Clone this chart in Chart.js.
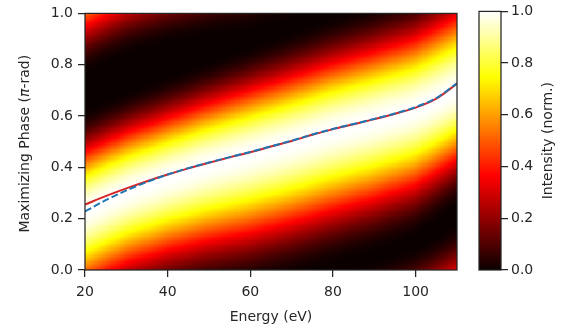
<!DOCTYPE html>
<html>
<head>
<meta charset="utf-8">
<script src="https://cdn.jsdelivr.net/npm/chart.js@4.4.1/dist/chart.umd.min.js"></script>
<style>
  body { margin: 0; background: #fff; }
  #wrap { position: relative; width: 567px; height: 333px; }
  #wrap canvas { position: absolute; left: 0; top: 0; }
</style>
</head>
<body>
<div id="wrap">
  <canvas id="main" width="567" height="333"></canvas>
  <canvas id="cbar" width="567" height="333"></canvas>
</div>
<script>
// maximizing phase curves
const energy = [20, 25, 30, 35, 40, 45, 50, 55, 60, 65, 70, 75, 80, 85, 90, 95, 100, 105, 110];
const phaseSolid = [0.255, 0.288, 0.318, 0.346, 0.372, 0.396, 0.418, 0.439, 0.459, 0.481, 0.503, 0.527, 0.549, 0.568, 0.588, 0.609, 0.633, 0.668, 0.726];
const phaseDashed = [0.228, 0.272, 0.310, 0.343, 0.372, 0.397, 0.419, 0.440, 0.460, 0.482, 0.504, 0.528, 0.550, 0.569, 0.589, 0.610, 0.635, 0.670, 0.728];

// intensity map: bright band position and widths (below / above the peak) per energy column
const heatEnergy = [20, 30, 40, 50, 60, 70, 80, 90, 100, 110];
const heatPeak = [0.23, 0.305, 0.36, 0.41, 0.452, 0.495, 0.542, 0.582, 0.625, 0.70];
const heatWidthLow = [0.235, 0.235, 0.24, 0.25, 0.26, 0.262, 0.262, 0.258, 0.25, 0.23];
const heatWidthUp = [0.20, 0.198, 0.20, 0.205, 0.213, 0.22, 0.225, 0.23, 0.235, 0.244];

const xTicks = [20, 40, 60, 80, 100];
const yTicks = [0, 0.2, 0.4, 0.6, 0.8, 1.0];
const cbTicks = [0, 0.2, 0.4, 0.6, 0.8, 1.0];

const TXT = '#262626';
const FONT = 'DejaVu Sans';

function lerpAt(xs, ys, x) {
    if (x <= xs[0]) return ys[0];
    for (let i = 1; i < xs.length; i++) {
        if (x <= xs[i]) {
            const t = (x - xs[i - 1]) / (xs[i] - xs[i - 1]);
            return ys[i - 1] + t * (ys[i] - ys[i - 1]);
        }
    }
    return ys[ys.length - 1];
}

function intensity(e, ph) {
    const p = lerpAt(heatEnergy, heatPeak, e);
    const wl = lerpAt(heatEnergy, heatWidthLow, e);
    const wu = lerpAt(heatEnergy, heatWidthUp, e);
    let best = 0;
    // band repeats every 1 pi-rad
    for (let k = -1; k <= 1; k++) {
        const d = ph - p - k;
        const w = d < 0 ? wl : wu;
        const u = Math.abs(d) / (4 * w);
        if (u < 0.5) {
            const c = Math.cos(Math.PI * u);
            best = Math.max(best, c * c);
        }
    }
    return best;
}

// matplotlib 'hot'
function hot(v) {
    const r = v < 0.365079 ? 0.0416 + (1 - 0.0416) * v / 0.365079 : 1;
    const g = v < 0.365079 ? 0 : (v < 0.746032 ? (v - 0.365079) / (0.746032 - 0.365079) : 1);
    const b = v < 0.746032 ? 0 : (v - 0.746032) / (1 - 0.746032);
    return 'rgb(' + Math.round(r * 255) + ',' + Math.round(g * 255) + ',' + Math.round(b * 255) + ')';
}

const heatmapPlugin = {
    id: 'heatmap',
    beforeDatasetsDraw(chart) {
        const ctx = chart.ctx;
        const xs = chart.scales.x, ys = chart.scales.y;
        const area = chart.chartArea;
        const dE = 0.5, dP = 1 / 220;
        ctx.save();
        ctx.beginPath();
        ctx.rect(area.left, area.top, area.right - area.left, area.bottom - area.top);
        ctx.clip();
        for (let e = xs.min; e < xs.max; e += dE) {
            const x0 = Math.floor(xs.getPixelForValue(e));
            const x1 = Math.ceil(xs.getPixelForValue(e + dE));
            for (let p = ys.min; p < ys.max; p += dP) {
                const yb = Math.ceil(ys.getPixelForValue(p));
                const yt = Math.floor(ys.getPixelForValue(p + dP));
                ctx.fillStyle = hot(intensity(e + dE / 2, p + dP / 2));
                ctx.fillRect(x0, yt, x1 - x0, yb - yt);
            }
        }
        ctx.restore();
    },
    afterDraw(chart) {
        const ctx = chart.ctx;
        const a = chart.chartArea;
        ctx.save();
        ctx.strokeStyle = TXT;
        ctx.lineWidth = 1.25;
        ctx.strokeRect(a.left, a.top, a.right - a.left, a.bottom - a.top);
        ctx.fillStyle = TXT;
        // x title
        ctx.font = '14px "' + FONT + '"';
        ctx.textAlign = 'center';
        ctx.textBaseline = 'alphabetic';
        ctx.fillText('Energy (eV)', (a.left + a.right) / 2, 321);
        // y title with italic pi
        const parts = [['Maximizing Phase (', 'normal'], ['\u03c0', 'italic'], ['-rad)', 'normal']];
        let total = 0;
        parts.forEach(pt => {
            ctx.font = (pt[1] === 'italic' ? 'italic ' : '') + '14px "' + FONT + '"';
            pt.push(ctx.measureText(pt[0]).width);
            total += pt[2];
        });
        ctx.translate(29, (a.top + a.bottom) / 2 + 2);
        ctx.rotate(-Math.PI / 2);
        ctx.textAlign = 'left';
        let x = -total / 2;
        parts.forEach(pt => {
            ctx.font = (pt[1] === 'italic' ? 'italic ' : '') + '14px "' + FONT + '"';
            ctx.fillText(pt[0], x, 0);
            x += pt[2];
        });
        ctx.restore();
    }
};

const mainChart = new Chart(document.getElementById('main'), {
    type: 'line',
    data: {
        datasets: [{
            data: energy.map((e, i) => ({x: e, y: phaseDashed[i]})),
            borderColor: '#1f77b4',
            borderWidth: 2,
            borderDash: [7, 3],
            pointRadius: 0,
            cubicInterpolationMode: 'monotone',
            fill: false
        }, {
            data: energy.map((e, i) => ({x: e, y: phaseSolid[i]})),
            borderColor: '#d62728',
            borderWidth: 2,
            pointRadius: 0,
            cubicInterpolationMode: 'monotone',
            fill: false
        }]
    },
    options: {
        responsive: false,
        animation: false,
        devicePixelRatio: 1,
        layout: { padding: { top: 11, right: 110, bottom: 0, left: 0 } },
        plugins: { legend: { display: false }, tooltip: { enabled: false } },
        scales: {
            x: {
                type: 'linear',
                min: 20,
                max: 110,
                afterBuildTicks: s => { s.ticks = xTicks.map(v => ({value: v})); },
                afterFit: s => { s.height = 63; },
                border: { display: false },
                grid: { drawOnChartArea: false, drawTicks: true, tickLength: 7, color: TXT, lineWidth: 1.25 },
                ticks: { color: TXT, font: { family: FONT, size: 14 }, padding: 7, maxRotation: 0 }
            },
            y: {
                type: 'linear',
                min: 0,
                max: 1,
                afterBuildTicks: s => { s.ticks = yTicks.map(v => ({value: v})); },
                afterFit: s => { s.width = 85; },
                border: { display: false },
                grid: { drawOnChartArea: false, drawTicks: true, tickLength: 7, color: TXT, lineWidth: 1.25 },
                ticks: { color: TXT, font: { family: FONT, size: 14 }, padding: 5, callback: v => v.toFixed(1) }
            }
        }
    },
    plugins: [heatmapPlugin]
});

const colorbarPlugin = {
    id: 'colorbar',
    beforeDatasetsDraw(chart) {
        const ctx = chart.ctx;
        const ys = chart.scales.y;
        const a = chart.chartArea;
        const step = 0.004;
        ctx.save();
        for (let v = 0; v < 1; v += step) {
            const yb = Math.ceil(ys.getPixelForValue(v));
            const yt = Math.floor(ys.getPixelForValue(v + step));
            ctx.fillStyle = hot(v + step / 2);
            ctx.fillRect(a.left, yt, a.right - a.left, yb - yt);
        }
        ctx.restore();
    },
    afterDraw(chart) {
        const ctx = chart.ctx;
        const a = chart.chartArea;
        ctx.save();
        ctx.strokeStyle = TXT;
        ctx.lineWidth = 1.25;
        ctx.strokeRect(a.left, a.top, a.right - a.left, a.bottom - a.top);
        ctx.fillStyle = TXT;
        ctx.font = '14px "' + FONT + '"';
        ctx.textAlign = 'center';
        ctx.translate(552, (a.top + a.bottom) / 2);
        ctx.rotate(-Math.PI / 2);
        ctx.fillText('Intensity (norm.)', 0, 0);
        ctx.restore();
    }
};

const cbChart = new Chart(document.getElementById('cbar'), {
    type: 'scatter',
    data: { datasets: [{ data: [] }] },
    options: {
        responsive: false,
        animation: false,
        devicePixelRatio: 1,
        layout: { padding: { top: 11, right: 0, bottom: 63, left: 479 } },
        plugins: { legend: { display: false }, tooltip: { enabled: false } },
        scales: {
            x: { display: false, min: 0, max: 1 },
            y: {
                position: 'right',
                min: 0,
                max: 1,
                afterBuildTicks: s => { s.ticks = cbTicks.map(v => ({value: v})); },
                afterFit: s => { s.width = 66; },
                border: { display: false },
                grid: { drawOnChartArea: false, drawTicks: true, tickLength: 7, color: TXT, lineWidth: 1.25 },
                ticks: { color: TXT, font: { family: FONT, size: 14 }, padding: 3, callback: v => v.toFixed(1) }
            }
        }
    },
    plugins: [colorbarPlugin]
});
</script>
</body>
</html>
